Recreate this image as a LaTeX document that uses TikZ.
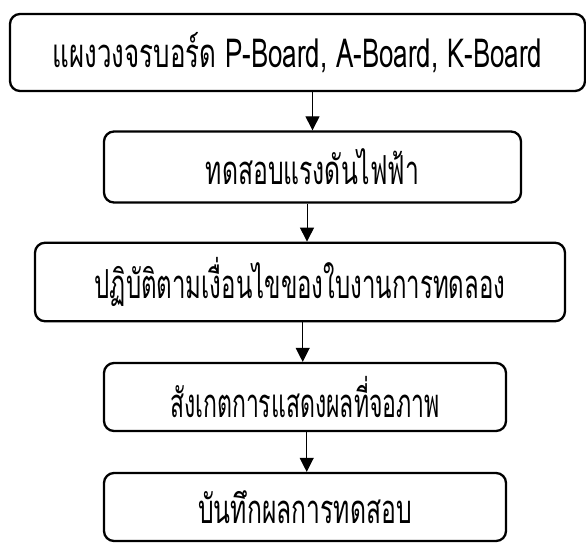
\documentclass[tikz,border=0pt]{standalone}
\usepackage{fontspec}
\newfontfamily\thaifont[Script=Thai,FakeStretch=0.6]{Loma}
\usetikzlibrary{arrows.meta,calc}
\begin{document}
\begin{tikzpicture}[x=1pt,y=1pt,
  stepbox/.style={draw,line width=2.3pt,rounded corners=10pt,inner sep=0pt,
    font=\thaifont\fontsize{40}{44}\selectfont,align=center},
  arr/.style={line width=1pt,-{Triangle[length=14pt,width=14pt]}}]
\useasboundingbox[fill=white] (0,0) rectangle (586,-544);
\node[stepbox,minimum width=575pt,minimum height=77pt] (b1) at (297.5,-52.5) {\scalebox{1.08}[1]{แผงวงจรบอร์ด P-Board, A-Board, K-Board}};
\node[stepbox,minimum width=417pt,minimum height=71pt] (b2) at (312.5,-167) {\scalebox{1.03}[1]{ทดสอบแรงดันไฟฟ้า}};
\node[stepbox,minimum width=530pt,minimum height=78.5pt] (b3) at (300,-282) {ปฏิบัติตามเงื่อนไขของใบงานการทดลอง};
\node[stepbox,minimum width=402pt,minimum height=68pt] (b4) at (305,-397) {\scalebox{0.96}[1]{สังเกตการแสดงผลที่จอภาพ}};
\node[stepbox,minimum width=402pt,minimum height=68pt] (b5) at (305,-507) {\scalebox{1.03}[1]{บันทึกผลการทดสอบ}};
\draw[arr] (b1.south -| b2.north) -- (b2.north);
\draw[arr] ([xshift=-5.5pt]b2.south) -- ([xshift=-5.5pt]b2.south |- b3.north);
\draw[arr] ([xshift=2.7pt]b3.south) -- ([xshift=2.7pt]b3.south |- b4.north);
\draw[arr] ([xshift=1.7pt]b4.south) -- ([xshift=1.7pt]b4.south |- b5.north);
\end{tikzpicture}
\end{document}
